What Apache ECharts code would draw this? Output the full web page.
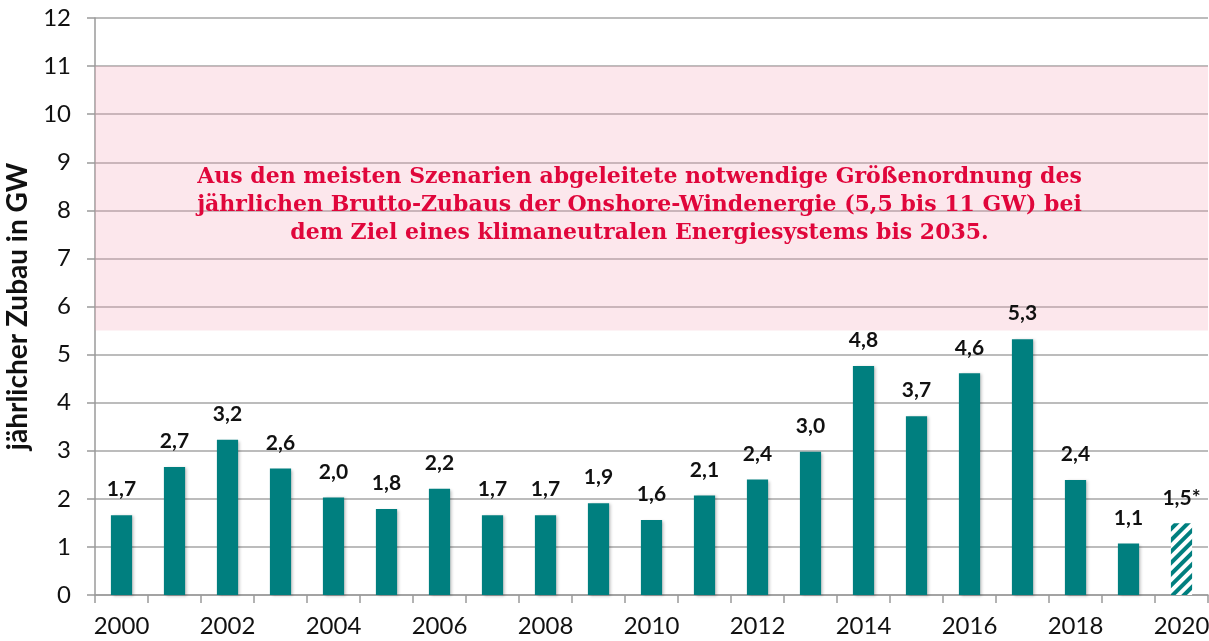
<!DOCTYPE html>
<html>
<head>
<meta charset="utf-8">
<script src="https://cdn.jsdelivr.net/npm/echarts@6/dist/echarts.min.js"></script>
<style>
html,body{margin:0;padding:0;background:#fff;}
#chart{width:1209px;height:641px;}
</style>
</head>
<body>
<div id="chart"></div>
<script>
const years = ['2000','2001','2002','2003','2004','2005','2006','2007','2008','2009','2010','2011','2012','2013','2014','2015','2016','2017','2018','2019','2020'];
const capacityGW = [1.66,2.66,3.23,2.63,2.03,1.79,2.21,1.66,1.66,1.91,1.56,2.07,2.40,2.98,4.76,3.72,4.61,5.32,2.39,1.07,1.49];
const estimatedYears = ['2020'];
const targetBand = [5.5, 11];
const yTicks = {min: 0, max: 12, interval: 1};
const axisTitle = 'jährlicher Zubau in GW';
const bandText = 'Aus den meisten Szenarien abgeleitete notwendige Größenordnung des\njährlichen Brutto-Zubaus der Onshore-Windenergie (5,5 bis 11 GW) bei\ndem Ziel eines klimaneutralen Energiesystems bis 2035.';

const TEAL = '#007f7f';
const fmt = v => v.toFixed(1).replace('.', ',');

const seriesData = capacityGW.map((v, i) => {
  const est = estimatedYears.includes(years[i]);
  return est ? {
    value: v,
    itemStyle: {
      color: '#ffffff',
      shadowBlur: 0, shadowOffsetX: 0, shadowOffsetY: 0, shadowColor: 'transparent',
      decal: {
        symbol: 'rect',
        symbolSize: 1,
        color: TEAL,
        dashArrayX: [1, 0],
        dashArrayY: [4, 4],
        rotation: -Math.PI / 4
      }
    }
  } : {value: v};
});

const chart = echarts.init(document.getElementById('chart'), null, {renderer: 'canvas'});
chart.setOption({
  animation: false,
  backgroundColor: '#ffffff',
  grid: {left: 95, right: 1, top: 18, bottom: 46, containLabel: false, outerBoundsMode: 'none'},
  xAxis: {
    type: 'category',
    data: years,
    boundaryGap: true,
    axisLine: {lineStyle: {color: '#9a9a9a', width: 1.5}},
    axisTick: {show: true, interval: 0, length: 8, lineStyle: {color: '#9a9a9a', width: 1.5}},
    axisLabel: {interval: 1, margin: 19, color: '#111', fontFamily: 'Lato', fontSize: 24}
  },
  yAxis: {
    type: 'value',
    min: yTicks.min, max: yTicks.max, interval: yTicks.interval,
    name: axisTitle,
    nameLocation: 'middle',
    nameGap: 62,
    nameTextStyle: {color: '#111', fontFamily: 'Lato', fontWeight: 'bold', fontSize: 28},
    axisLine: {show: true, lineStyle: {color: '#9a9a9a', width: 1.5}},
    axisTick: {show: true, length: 8, lineStyle: {color: '#9a9a9a', width: 1.5}},
    axisLabel: {margin: 24, color: '#111', fontFamily: 'Lato', fontSize: 24},
    splitLine: {show: true, lineStyle: {color: '#a6a6a6', width: 1.5}}
  },
  series: [{
    type: 'bar',
    data: seriesData,
    barWidth: '40%',
    itemStyle: {color: TEAL, shadowColor: 'rgba(0,0,0,0.25)', shadowBlur: 3, shadowOffsetX: 2, shadowOffsetY: 1},
    label: {
      show: true,
      position: 'top',
      distance: 15,
      color: '#111',
      fontFamily: 'Lato',
      fontWeight: 'bold',
      fontSize: 21,
      formatter: p => fmt(p.value) + (estimatedYears.includes(p.name) ? '*' : '')
    },
    markArea: {
      silent: true,
      itemStyle: {color: 'rgba(243,160,178,0.25)'},
      label: {
        show: true,
        position: 'inside',
        offset: [-12, 7],
        formatter: bandText,
        color: '#e0063b',
        fontFamily: 'DejaVu Serif',
        fontWeight: 'bold',
        fontSize: 22,
        lineHeight: 28,
        align: 'center'
      },
      data: [[{yAxis: targetBand[0]}, {yAxis: targetBand[1]}]]
    }
  }]
});
</script>
</body>
</html>
